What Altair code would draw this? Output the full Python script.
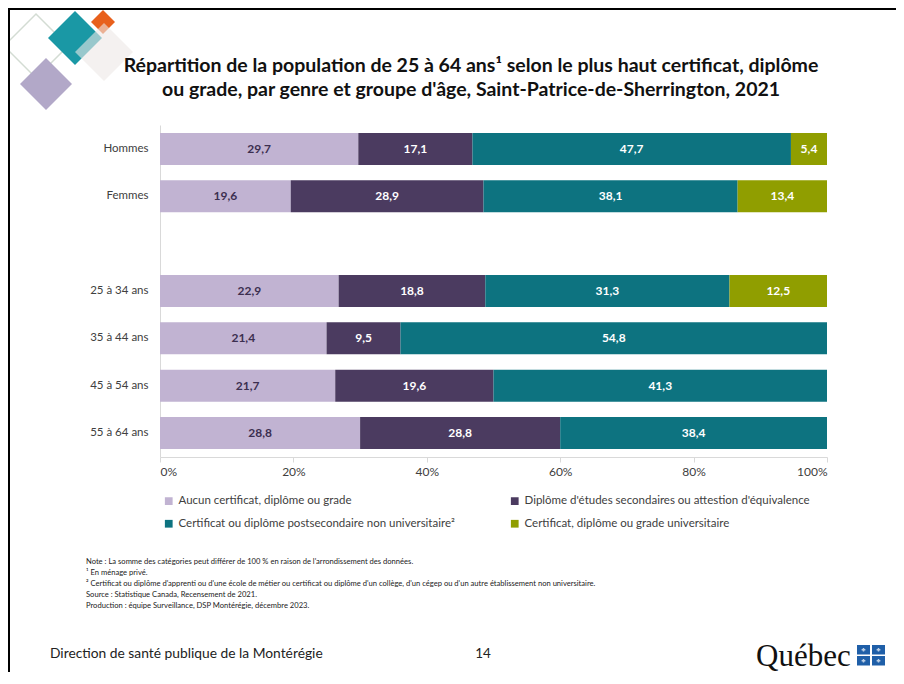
import altair as alt
import pandas as pd

# ---------------- data ----------------
categories = ["Hommes", "Femmes", " ", "25 à 34 ans", "35 à 44 ans", "45 à 54 ans", "55 à 64 ans"]
series = [
    "Aucun certificat, diplôme ou grade",
    "Diplôme d'études secondaires ou attestion d'équivalence",
    "Certificat ou diplôme postsecondaire non universitaire²",
    "Certificat, diplôme ou grade universitaire",
]
aucun = {"Hommes": 29.7, "Femmes": 19.6, "25 à 34 ans": 22.9, "35 à 44 ans": 21.4, "45 à 54 ans": 21.7, "55 à 64 ans": 28.8}
secondaire = {"Hommes": 17.1, "Femmes": 28.9, "25 à 34 ans": 18.8, "35 à 44 ans": 9.5, "45 à 54 ans": 19.6, "55 à 64 ans": 28.8}
postsec = {"Hommes": 47.7, "Femmes": 38.1, "25 à 34 ans": 31.3, "35 à 44 ans": 54.8, "45 à 54 ans": 41.3, "55 à 64 ans": 38.4}
universitaire = {"Hommes": 5.4, "Femmes": 13.4, "25 à 34 ans": 12.5}
colors = ["#C1B3D2", "#4B3B60", "#0D7380", "#909E00"]

title_lines = [
    "Répartition de la population de 25 à 64 ans¹ selon le plus haut certificat, diplôme",
    "ou grade, par genre et groupe d'âge, Saint-Patrice-de-Sherrington, 2021",
]
notes = [
    "Note : La somme des catégories peut différer de 100 % en raison de l'arrondissement des données.",
    "¹ En ménage privé.",
    "² Certificat ou diplôme d'apprenti ou d'une école de métier ou certificat ou diplôme d'un collège, d'un cégep ou d'un autre établissement non universitaire.",
    "Source : Statistique Canada, Recensement de 2021.",
    "Production : équipe Surveillance, DSP Montérégie, décembre 2023.",
]
footer_left = "Direction de santé publique de la Montérégie"
page_number = "14"
logo_text = "Québec"
x_ticks = [0, 0.2, 0.4, 0.6, 0.8, 1.0]

rows = []
for i, (name, d) in enumerate(zip(series, [aucun, secondaire, postsec, universitaire])):
    for cat, v in d.items():
        rows.append({"cat": cat, "series": name, "idx": i, "value": v})
df = pd.DataFrame(rows)

FONT = "Lato"
DARK = "#3C2F50"
GREY = "#404040"

# view origin inside the canvas (used to place decorations)
OX, OY = 152, 117

xscale = alt.Scale(domain=[0, 1], nice=False)
yscale = alt.Scale(domain=categories, paddingInner=0.324, paddingOuter=0.169)

bars = alt.Chart(df).mark_bar().encode(
    x=alt.X("value:Q", stack="normalize", scale=xscale,
            axis=alt.Axis(format="%", values=x_ticks, grid=False, title=None,
                          domainColor="#D9D9D9", tickColor="#D9D9D9", tickSize=5,
                          labelFont=FONT, labelFontSize=12, labelColor=GREY, labelPadding=4)),
    y=alt.Y("cat:N", scale=yscale,
            axis=alt.Axis(title=None, ticks=False, domainColor="#D9D9D9",
                          labelFont=FONT, labelFontSize=11.5, labelColor=GREY, labelPadding=12)),
    color=alt.Color("series:N", scale=alt.Scale(domain=series, range=colors),
                    legend=alt.Legend(orient="none", legendX=3, legendY=370, columns=2,
                                      direction="horizontal",
                                      columnPadding=54, rowPadding=10, title=None,
                                      symbolType="square", symbolSize=60, symbolStrokeWidth=0,
                                      labelFont=FONT, labelFontSize=11.5, labelColor=GREY,
                                      labelLimit=400)),
    order=alt.Order("idx:Q"),
)

labels = alt.Chart(df).transform_joinaggregate(
    total="sum(value)", groupby=["cat"]
).transform_window(
    cum="sum(value)", groupby=["cat"], sort=[alt.SortField("idx")]
).transform_calculate(
    mid="(datum.cum - datum.value / 2) / datum.total",
    lab="replace(format(datum.value, '.1f'), '.', ',')",
).mark_text(font=FONT, fontSize=12, fontWeight="bold").encode(
    x=alt.X("mid:Q", scale=xscale),
    y=alt.Y("cat:N", scale=yscale),
    text="lab:N",
    color=alt.condition("datum.idx == 0", alt.value(DARK), alt.value("white")),
)

one = pd.DataFrame({"k": [0]})


def deco_diamond(cx, cy, r, fill, opacity=1.0, stroke=None):
    kw = dict(shape="diamond", filled=True, fill=fill, opacity=opacity, size=(2 * r) ** 2)
    if stroke:
        kw.update(stroke=stroke, strokeWidth=1.5)
    return alt.Chart(one).mark_point(**kw).encode(x=alt.value(cx - OX), y=alt.value(cy - OY))


decor = [
    deco_diamond(28, 38, 32, "white", stroke="#D3DCD3"),
    deco_diamond(38, 76, 26, "#B2A8C8"),
    deco_diamond(67, 30, 27, "#1A98A5"),
    deco_diamond(95, 14, 12, "#E8601C"),
    deco_diamond(96, 44, 29, "#ECE8E6", opacity=0.6),
]

frame_top = alt.Chart(one).mark_rule(color="black", strokeWidth=2).encode(
    x=alt.value(0 - OX), x2=alt.value(888 - OX), y=alt.value(1 - OY))
frame_left = alt.Chart(one).mark_rule(color="black", strokeWidth=2).encode(
    x=alt.value(1 - OX), y=alt.value(0 - OY), y2=alt.value(664 - OY))

title_layer = alt.Chart(one).mark_text(
    font=FONT, fontSize=19.5, fontWeight="bold", align="center", baseline="alphabetic",
    lineHeight=24, color="#111111"
).encode(x=alt.value(463 - OX), y=alt.value(64 - OY), text=alt.value(title_lines))

notes_layer = alt.Chart(one).mark_text(
    font=FONT, fontSize=7.6, align="left", baseline="alphabetic", lineHeight=11, color="#222222"
).encode(x=alt.value(78 - OX), y=alt.value(556 - OY), text=alt.value(notes))

footer_layer = alt.Chart(one).mark_text(
    font=FONT, fontSize=13.8, align="left", baseline="alphabetic", color="#222222"
).encode(x=alt.value(42 - OX), y=alt.value(650 - OY), text=alt.value(footer_left))

page_layer = alt.Chart(one).mark_text(
    font=FONT, fontSize=13.5, align="center", baseline="alphabetic", color="#222222"
).encode(x=alt.value(475 - OX), y=alt.value(650 - OY), text=alt.value(page_number))

logo_layer = alt.Chart(one).mark_text(
    font="Liberation Serif", fontSize=31, align="left", baseline="alphabetic", color="#111111"
).encode(x=alt.value(748 - OX), y=alt.value(658 - OY), text=alt.value(logo_text))

flag = []
for (x0, y0) in [(849, 637), (864, 637), (849, 648), (864, 648)]:
    flag.append(alt.Chart(one).mark_rect(color="#1F5FA8").encode(
        x=alt.value(x0 - OX), x2=alt.value(x0 + 13 - OX), y=alt.value(y0 - OY), y2=alt.value(y0 + 9.5 - OY)))
    flag.append(alt.Chart(one).mark_point(shape="cross", filled=True, color="white", size=14).encode(
        x=alt.value(x0 + 6.5 - OX), y=alt.value(y0 + 4.75 - OY)))

chart = alt.layer(
    *decor, frame_top, frame_left, title_layer, bars, labels, notes_layer, footer_layer,
    page_layer, logo_layer, *flag
).properties(
    width=667,
    height=332,
    autosize=alt.AutoSizeParams(type="none"),
    padding={"left": OX, "top": OY, "right": 69, "bottom": 215},
    background="white",
).configure_view(stroke=None)

chart.save("out.html", embed_options={"renderer": "svg", "actions": False})
